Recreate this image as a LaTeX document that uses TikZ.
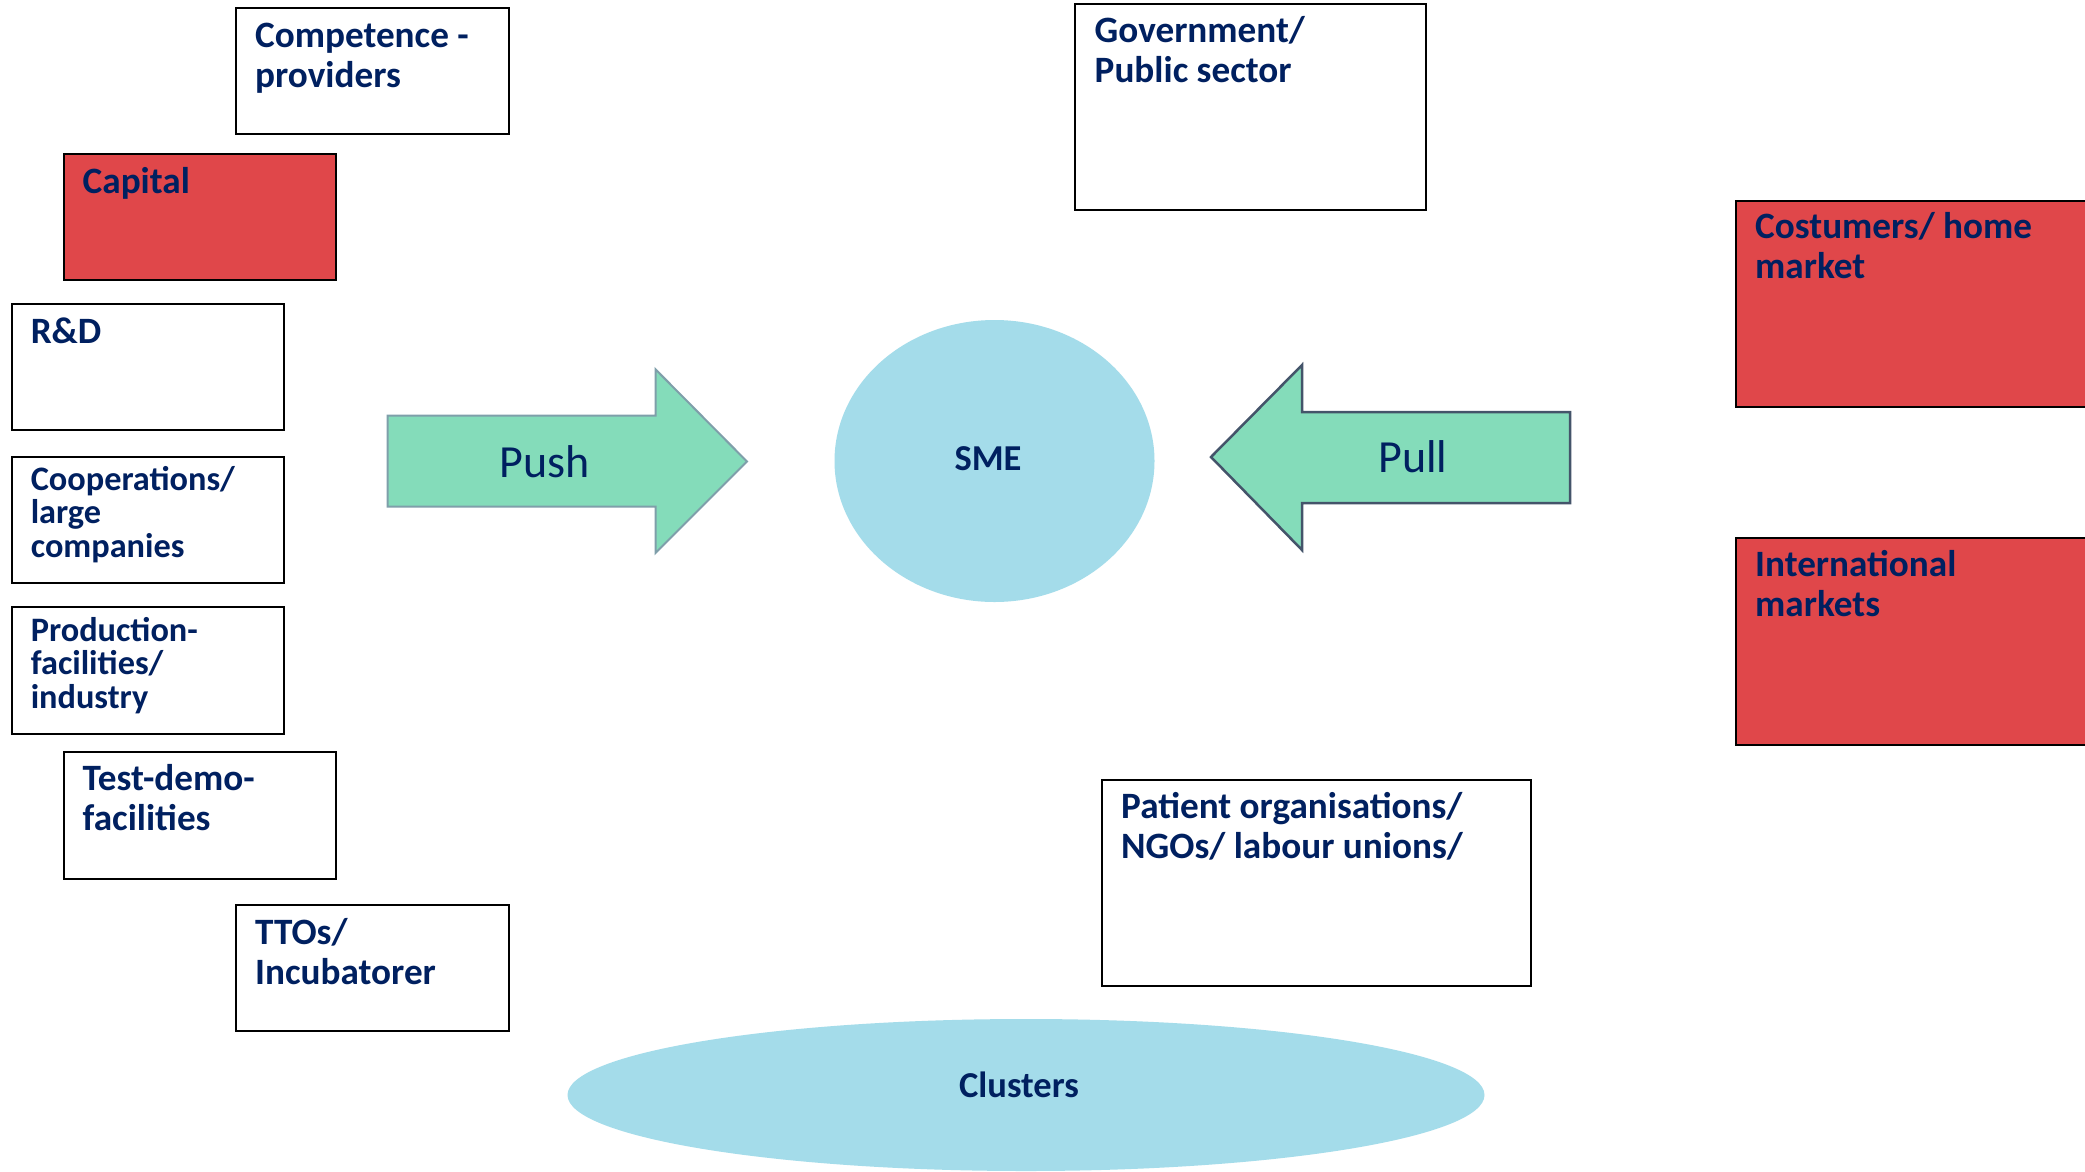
\documentclass[tikz,border=0pt]{standalone}
\usepackage{fontspec}
\setmainfont{Carlito}
\usetikzlibrary{shapes.geometric}
\definecolor{navy}{HTML}{002060}
\definecolor{capred}{HTML}{E0474A}
\definecolor{smeblue}{HTML}{A4DCEA}
\definecolor{arrowgreen}{HTML}{84DCBA}
\definecolor{pushline}{HTML}{7F9FAA}
\definecolor{pullline}{HTML}{44546A}
\tikzset{
	box/.style={draw=black, line width=2pt, fill=white, anchor=north west, inner sep=0pt},
	redbox/.style={box, fill=capred},
	boxtext/.style={anchor=base west, inner sep=0pt, text=navy, align=left, font=\bfseries\fontsize{37.2}{40}\selectfont},
	smalltext/.style={boxtext, font=\bfseries\fontsize{34.3}{33.5}\selectfont},
	blobtext/.style={anchor=center, inner sep=0pt, text=navy, font=\bfseries\fontsize{36.5}{40}\selectfont},
	blob/.style={ellipse, fill=smeblue, inner sep=0pt},
	arrowtext/.style={anchor=base, inner sep=0pt, text=navy, font=\fontsize{46}{50}\selectfont},
}
\begin{document}
\begin{tikzpicture}[x=1pt,y=-1pt]
		\clip (0,0) rectangle (2085,1171);
		\fill[white] (0,0) rectangle (2085,1171);

		% left column (text shift is to the baseline of the last line)
		\node[box, minimum width=273pt, minimum height=126pt] (comp) at (235,6.6) {};
		\node[boxtext] at ([shift={(20pt,-80.5pt)}]comp.north west) {Competence -\\providers};

		\node[redbox, minimum width=272pt, minimum height=126pt] (capital) at (62.5,153) {};
		\node[boxtext] at ([shift={(20pt,-40pt)}]capital.north west) {Capital};

		\node[box, minimum width=272pt, minimum height=126pt] (rd) at (10.6,303) {};
		\node[boxtext] at ([shift={(20pt,-40pt)}]rd.north west) {R\&D};

		\node[box, minimum width=272pt, minimum height=126pt] (coop) at (10.6,456) {};
		\node[smalltext] at ([shift={(20pt,-101pt)}]coop.north west) {Cooperations/\\large\\companies};

		\node[box, minimum width=272pt, minimum height=127pt] (prod) at (10.6,606) {};
		\node[smalltext] at ([shift={(20pt,-102pt)}]prod.north west) {Production-\\facilities/\\industry};

		\node[box, minimum width=272pt, minimum height=127pt] (test) at (62.5,751) {};
		\node[boxtext] at ([shift={(20pt,-79.5pt)}]test.north west) {Test-demo-\\facilities};

		\node[box, minimum width=273pt, minimum height=126pt] (tto) at (235,904) {};
		\node[boxtext] at ([shift={(20pt,-80pt)}]tto.north west) {TTOs/\\Incubatorer};

		% right side
		\node[box, minimum width=351pt, minimum height=206.5pt] (gov) at (1074,2.5) {};
		\node[boxtext] at ([shift={(20.5pt,-79.5pt)}]gov.north west) {Government/\\Public sector};

		\node[redbox, minimum width=400pt, minimum height=206pt] (cust) at (1735,199.5) {};
		\node[boxtext] at ([shift={(20pt,-79pt)}]cust.north west) {Costumers/ home\\market};

		\node[redbox, minimum width=400pt, minimum height=207pt] (intl) at (1735,537) {};
		\node[boxtext] at ([shift={(20pt,-79.5pt)}]intl.north west) {International\\markets};

		\node[box, minimum width=429pt, minimum height=206pt] (pat) at (1101,779) {};
		\node[boxtext] at ([shift={(20pt,-79pt)}]pat.north west) {Patient organisations/\\NGOs/ labour unions/};

		% centre
		\node[blob, minimum width=320pt, minimum height=282pt] (sme) at (994.5,461) {};
		\node[blobtext] at (988,459) {SME};

		\node[blob, minimum width=917pt, minimum height=152pt] (clusters) at (1026,1095) {};
		\node[blobtext] at (1019,1085) {Clusters};

		% push and pull
		\draw[fill=arrowgreen, draw=pushline, line width=2pt] (387.7,415.7) -- (655.5,415.7) -- (655.5,369.3) -- (747,461.5) -- (655.5,553) -- (655.5,506.7) -- (387.7,506.7) -- cycle;
		\node[arrowtext] (push) at (544.5,477.7) {Push};

		\draw[fill=arrowgreen, draw=pullline, line width=2.5pt] (1570,412) -- (1302,412) -- (1302,365) -- (1211,457) -- (1302,550) -- (1302,503) -- (1570,503) -- cycle;
		\node[arrowtext] (pull) at (1413,472) {Pull};
\end{tikzpicture}
\end{document}
